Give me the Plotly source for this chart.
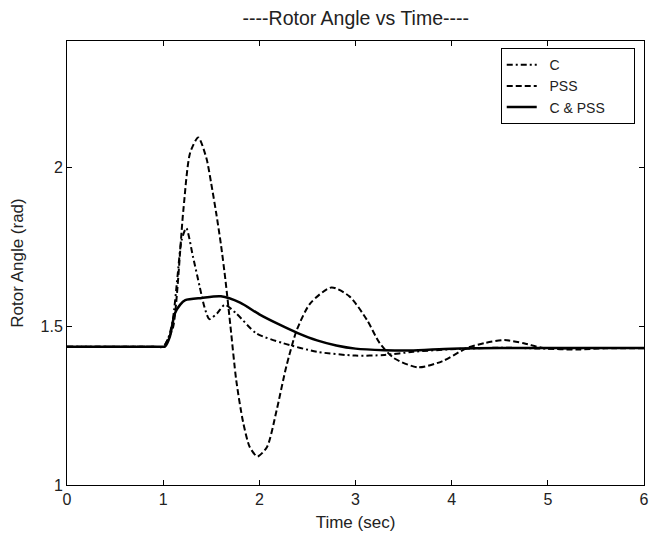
import plotly.graph_objects as go

# ---- data ----
t_c = [0, 0.9, 1.0, 1.05, 1.1, 1.15, 1.19, 1.24, 1.31, 1.38, 1.43, 1.48, 1.56, 1.64, 1.76, 1.97, 2.25, 2.6, 3.0, 3.3, 3.6, 4.0, 4.5, 5.0, 5.5, 6.0]
v_c = [1.436, 1.436, 1.436, 1.46, 1.52, 1.66, 1.77, 1.81, 1.72, 1.625, 1.56, 1.523, 1.541, 1.568, 1.541, 1.478, 1.447, 1.42, 1.408, 1.41, 1.42, 1.428, 1.433, 1.43, 1.432, 1.432]

t_pss = [0, 0.9, 1.0, 1.05, 1.105, 1.21, 1.28, 1.365, 1.45, 1.5, 1.55, 1.6, 1.65, 1.7, 1.76, 1.83, 1.90, 1.98, 2.08, 2.18, 2.28, 2.39, 2.53, 2.75, 2.94, 3.12, 3.25, 3.40, 3.65, 3.9, 4.16, 4.35, 4.55, 4.75, 4.95, 5.3, 5.6, 6.0]
v_pss = [1.436, 1.436, 1.436, 1.46, 1.50, 1.867, 2.047, 2.096, 2.03, 1.95, 1.86, 1.76, 1.64, 1.50, 1.33, 1.20, 1.12, 1.09, 1.12, 1.236, 1.373, 1.489, 1.573, 1.623, 1.594, 1.52, 1.448, 1.40, 1.371, 1.39, 1.432, 1.448, 1.457, 1.447, 1.432, 1.427, 1.431, 1.431]

t_both = [0, 0.9, 1.0, 1.02, 1.07, 1.12, 1.175, 1.23, 1.4, 1.6, 1.8, 2.0, 2.2, 2.4, 2.6, 2.8, 3.0, 3.3, 3.57, 4.0, 4.5, 6.0]
v_both = [1.436, 1.436, 1.436, 1.437, 1.468, 1.54, 1.568, 1.583, 1.59, 1.595, 1.575, 1.538, 1.507, 1.479, 1.456, 1.44, 1.43, 1.425, 1.424, 1.43, 1.432, 1.432]

series_names = ["C", "PSS", "C & PSS"]
x_ticks = [0, 1, 2, 3, 4, 5, 6]
y_ticks = [1, 1.5, 2]
y_tick_labels = ["1", "1.5", "2"]

FONT = "Liberation Sans, Arial, sans-serif"
NB = "\u00a0"

fig = go.Figure()
fig.add_trace(go.Scatter(x=t_c, y=v_c, name=NB * 2 + series_names[0], mode="lines",
                         line=dict(color="black", width=2, dash="6px,3px,2px,3px", shape="spline", smoothing=0.7)))
fig.add_trace(go.Scatter(x=t_pss, y=v_pss, name=NB * 2 + series_names[1], mode="lines",
                         line=dict(color="black", width=2, dash="6px,3px", shape="spline", smoothing=0.7)))
fig.add_trace(go.Scatter(x=t_both, y=v_both, name=NB * 2 + series_names[2] + NB * 6, mode="lines",
                         line=dict(color="black", width=2.5, shape="spline", smoothing=0.7)))

axis_common = dict(showline=True, linecolor="black", linewidth=1, mirror="ticks",
                   ticks="inside", ticklen=5, tickcolor="black", showgrid=False, zeroline=False,
                   tickfont=dict(family=FONT, size=16, color="#222"))

fig.update_layout(
    width=653, height=534,
    margin=dict(l=67, r=9, t=41, b=49, autoexpand=False),
    paper_bgcolor="white", plot_bgcolor="white",
    font=dict(family=FONT, size=16, color="#222"),
    title=dict(text="----Rotor Angle vs Time----", x=0.5449, xanchor="center", y=0.966, yanchor="middle",
               font=dict(family=FONT, size=19.5, color="#222")),
    xaxis=dict(range=[0, 6], tickvals=x_ticks, automargin=False,
               title=dict(text="Time (sec)", standoff=8, font=dict(family=FONT, size=17)), **axis_common),
    yaxis=dict(range=[1, 2.4], tickvals=y_ticks, ticktext=y_tick_labels, automargin=False,
               title=dict(text="Rotor Angle (rad)", standoff=12, font=dict(family=FONT, size=17)), **axis_common),
    legend=dict(x=0.7517, y=0.984, xanchor="left", yanchor="top",
                bordercolor="black", borderwidth=1, bgcolor="white",
                font=dict(family=FONT, size=14, color="#222"), tracegroupgap=0,
                itemwidth=30),
    showlegend=True,
)

fig.write_html("out.html", config={"displayModeBar": False},
               post_script="document.body.style.margin='0';document.body.style.overflow='hidden';")
